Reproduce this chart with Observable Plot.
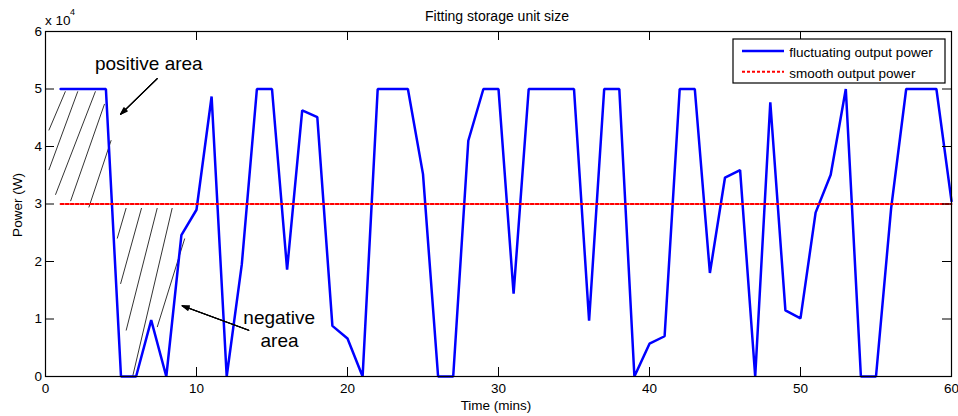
<!DOCTYPE html>
<html><head><meta charset="utf-8">
<script src="https://cdn.jsdelivr.net/npm/d3@7"></script>
<script src="https://cdn.jsdelivr.net/npm/@observablehq/plot@0.6"></script>
<style>
html,body{margin:0;padding:0;background:#fff;}
#chart{width:958px;height:416px;}
</style></head><body><div id="chart"></div>
<script>
// ---- data ----
const timeMins = [1,2,3,4,5,6,7,8,9,10,11,12,13,14,15,16,17,18,19,20,21,22,23,24,25,26,27,28,29,30,
  31,32,33,34,35,36,37,38,39,40,41,42,43,44,45,46,47,48,49,50,51,52,53,54,55,56,57,58,59,60];
const fluctuatingPower = [50000,50000,50000,50000,0,0,9800,0,24600,29000,48700,0,19500,50000,50000,18600,46300,45100,8800,6600,
  0,50000,50000,50000,35200,0,0,41000,50000,50000,14400,50000,50000,50000,50000,9700,50000,50000,0,5700,
  7000,50000,50000,18000,34600,35900,0,47700,11500,10100,28500,35100,50000,0,0,29200,50000,50000,50000,30500];
const smoothTime = [1, 60];
const smoothPower = [30000, 30000];
const xTicks = [0,10,20,30,40,50,60];
const yTicks = [0,10000,20000,30000,40000,50000,60000];
// hatch strokes (annotation), time / power
const hatchX1 = [0.22,0.22,0.66,1.66,2.87,4.75,4.97,5.34,5.78,7.40];
const hatchY1 = [42800,35900,31600,30500,29400,24000,16100,8000,100,8600];
const hatchX2 = [1.32,2.14,3.31,3.91,4.35,5.34,6.36,7.40,8.39,9.22];
const hatchY2 = [49600,49600,49600,47400,41100,29300,29300,29300,29300,24000];
// annotation arrows
const arrowX1 = [7.40, 13.46];
const arrowY1 = [51800, 8050];
const arrowX2 = [4.97, 9.05];
const arrowY2 = [45600, 12300];
// annotation texts
const noteText = ["positive area", "negative", "area"];
const noteX = [6.84, 15.48, 15.50];
const noteY = [54300, 10160, 6200];
const legendLabels = ["fluctuating output power", "smooth output power"];

// ---- chart ----
const W = 958, H = 416, mL = 45, mR = 7, mT = 31, mB = 40;
const innerW = W - mL - mR, innerH = H - mT - mB, TICK = 9;
const FONT = "'Liberation Sans', Arial, Helvetica, sans-serif";

const fluct = timeMins.map((t, i) => ({t, p: fluctuatingPower[i]}));
const smooth = smoothTime.map((t, i) => ({t, p: smoothPower[i]}));
const hatch = hatchX1.map((_, i) => ({x1: hatchX1[i], y1: hatchY1[i], x2: hatchX2[i], y2: hatchY2[i]}));
const arrows = arrowX1.map((_, i) => ({x1: arrowX1[i], y1: arrowY1[i], x2: arrowX2[i], y2: arrowY2[i]}));
const notes = noteText.map((s, i) => ({s, x: noteX[i], y: noteY[i]}));

const svg = Plot.plot({
  width: W, height: H,
  marginLeft: mL, marginRight: mR, marginTop: mT, marginBottom: mB,
  style: {fontFamily: FONT, fontSize: "13.5px", color: "#000", background: "#fff", overflow: "visible"},
  x: {domain: [0, 60], label: null},
  y: {domain: [0, 60000], label: null},
  marks: [
    Plot.link(hatch, {x1: "x1", y1: "y1", x2: "x2", y2: "y2", stroke: "#000", strokeWidth: 0.8}),
    Plot.line(fluct, {x: "t", y: "p", stroke: "#0000ff", strokeWidth: 2.5, strokeLinejoin: "miter"}),
    Plot.line(smooth, {x: "t", y: "p", stroke: "#ff0000", strokeWidth: 2, strokeDasharray: "3,2"}),
    ...[38, 26, 14].map(a => Plot.arrow(arrows, {x1: "x1", y1: "y1", x2: "x2", y2: "y2", stroke: "#000", strokeWidth: 1.1, headLength: 10, headAngle: a, bend: 0})),
    Plot.text(notes, {x: "x", y: "y", text: "s", fontSize: 19, fill: "#000", textAnchor: "middle"}),
    Plot.tickX(xTicks, {x: d => d, insetTop: innerH - TICK, stroke: "#000"}),
    Plot.tickX(xTicks, {x: d => d, insetBottom: innerH - TICK, stroke: "#000"}),
    Plot.tickY(yTicks, {y: d => d, insetRight: innerW - TICK, stroke: "#000"}),
    Plot.tickY(yTicks, {y: d => d, insetLeft: innerW - TICK, stroke: "#000"}),
    Plot.frame({stroke: "#000", strokeWidth: 1.2}),
    Plot.axisX({ticks: xTicks, tickSize: 0, tickPadding: 7, label: null, tickFormat: d => String(d)}),
    Plot.axisY({ticks: yTicks, tickSize: 0, tickPadding: 3.5, label: null, tickFormat: d => String(d / 1e4)})
  ]
});
document.getElementById("chart").appendChild(svg);

// ---- titles, labels, legend ----
const s = d3.select(svg);
const g = s.append("g").attr("font-family", FONT).attr("fill", "#000");
g.append("text").attr("x", 497).attr("y", 20.7).attr("text-anchor", "middle").attr("font-size", 14).text("Fitting storage unit size");
g.append("text").attr("x", 45).attr("y", 25).attr("text-anchor", "start").attr("font-size", 13.5).text("x 10");
g.append("text").attr("x", 70).attr("y", 15).attr("text-anchor", "start").attr("font-size", 9).text("4");
g.append("text").attr("transform", "translate(21.5,205) rotate(-90)").attr("text-anchor", "middle").attr("font-size", 13.5).text("Power (W)");
g.append("text").attr("x", 496).attr("y", 409.5).attr("text-anchor", "middle").attr("font-size", 13.5).text("Time (mins)");

const lg = s.append("g").attr("font-family", FONT);
lg.append("rect").attr("x", 733).attr("y", 39).attr("width", 212).attr("height", 44)
  .attr("fill", "#fff").attr("stroke", "#000").attr("stroke-width", 1.2);
const legendStyles = [{stroke: "#0000ff", w: 2.5, dash: null}, {stroke: "#ff0000", w: 2, dash: "3,2"}];
legendLabels.forEach((lab, i) => {
  const yy = 51 + i * 20.7;
  const ln = lg.append("line").attr("x1", 742).attr("x2", 784).attr("y1", yy).attr("y2", yy)
    .attr("stroke", legendStyles[i].stroke).attr("stroke-width", legendStyles[i].w);
  if (legendStyles[i].dash) ln.attr("stroke-dasharray", legendStyles[i].dash);
  lg.append("text").attr("x", 789.3).attr("y", yy + 6.3).attr("text-anchor", "start").attr("font-size", 13.5).attr("fill", "#000").text(lab);
});
</script></body></html>
